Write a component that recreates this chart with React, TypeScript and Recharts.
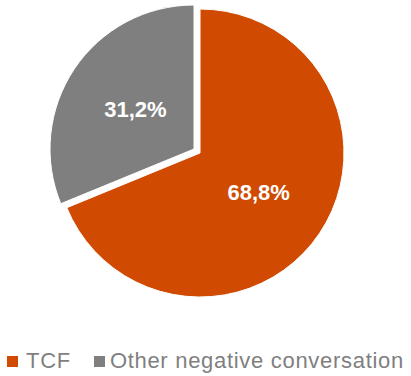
import React from 'react';
import { PieChart, Pie, Cell, Legend } from 'recharts';

const categories = ['TCF', 'Other negative conversation'];
const shares = [68.8, 31.2];
const colors = ['#D04A02', '#7F7F7F'];

const data = categories.map((name, i) => ({ name, value: shares[i] }));

const RADIAN = Math.PI / 180;

// label drawn only for the slice this Pie owns
const makeLabel = (owner: number) => (props: any) => {
    const { cx, cy, midAngle, outerRadius, index, value } = props;
    if (index !== owner) return null;
    const r = outerRadius * 0.49;
    const x = cx + r * Math.cos(-midAngle * RADIAN);
    const y = cy + r * Math.sin(-midAngle * RADIAN);
    return (
        <text x={x} y={y} fill="#fff" textAnchor="middle" dominantBaseline="central"
            fontSize={22} fontWeight="bold" fontFamily="'Liberation Sans', Arial, sans-serif">
            {value.toFixed(1).replace('.', ',')}%
        </text>
    );
};

const renderLegend = () => (
    <div style={{ display: 'flex', alignItems: 'center', whiteSpace: 'nowrap', width: 404, fontFamily: "'Liberation Sans', Arial, sans-serif", fontSize: 22, lineHeight: '24px', color: '#7F7F7F', letterSpacing: 0.7 }}>
        {categories.map((c, i) => (
            <div key={c} style={{ display: 'flex', alignItems: 'center', marginRight: i === 0 ? 23 : 0, flexShrink: 0 }}>
                <span style={{ display: 'inline-block', width: 11, height: 11, background: colors[i], marginRight: i === 0 ? 8 : 5 }} />
                <span>{c}</span>
            </div>
        ))}
    </div>
);

export default function App() {
    return (
        <div style={{ position: 'absolute', left: 0, top: 0, width: 411, height: 376, background: '#fff' }}>
            <PieChart width={411} height={376} margin={{ top: 0, right: 0, bottom: 0, left: 0 }}>
                <Pie data={data} dataKey="value" nameKey="name" cx={200} cy={153} outerRadius={144}
                    startAngle={90} endAngle={-270} stroke="#fff" strokeWidth={1}
                    label={makeLabel(0)} labelLine={false} isAnimationActive={false}>
                    {data.map((d, i) => (
                        <Cell key={d.name} fill={i === 0 ? colors[i] : 'none'} stroke={i === 0 ? '#fff' : 'none'} />
                    ))}
                </Pie>
                <Pie data={data} dataKey="value" nameKey="name" cx={194} cy={149} outerRadius={144}
                    startAngle={90} endAngle={-270} stroke="#fff" strokeWidth={1}
                    label={makeLabel(1)} labelLine={false} isAnimationActive={false}>
                    {data.map((d, i) => (
                        <Cell key={d.name} fill={i === 1 ? colors[i] : 'none'} stroke={i === 1 ? '#fff' : 'none'} />
                    ))}
                </Pie>
                <Legend content={renderLegend} layout="horizontal" verticalAlign="bottom" align="left"
                    wrapperStyle={{ left: 7, top: 349, bottom: 'auto', width: 404 }} />
            </PieChart>
        </div>
    );
}
